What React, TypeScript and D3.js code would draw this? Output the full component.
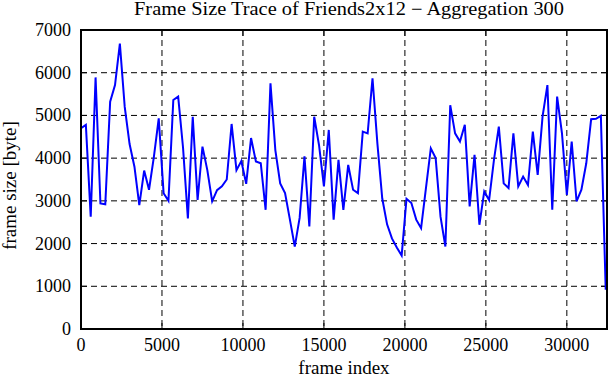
import { useRef, useEffect } from 'react';
import * as d3 from 'd3';

// one point per 300 aggregated frames
const AGGREGATION = 300;
const frameSizes = [
  4700, 4780, 2630, 5890, 2940, 2920, 5320, 5710, 6680, 5200,
  4330, 3800, 2900, 3710, 3260, 4030, 4930, 3180, 3000, 5360,
  5440, 4250, 2590, 4970, 3020, 4270, 3720, 2990, 3250, 3340,
  3500, 4800, 3720, 3930, 3400, 4470, 3920, 3880, 2790, 5750,
  4190, 3410, 3180, 2560, 1930, 2600, 4040, 2400, 4970, 4300,
  3340, 4660, 2560, 3960, 2790, 3840, 3260, 3180, 4620, 4580,
  5870, 4350, 3060, 2450, 2120, 1910, 1720, 3050, 2950, 2560,
  2360, 3300, 4230, 4000, 2630, 1930, 5240, 4580, 4390, 4780,
  2870, 4080, 2440, 3220, 3020, 3960, 4740, 3410, 3300, 4580,
  3340, 3570, 3370, 4620, 3610, 4970, 5710, 2790, 5440, 4580,
  3140, 4390, 2990, 3260, 3880, 4910, 4920, 4990, 920,
];
const xMax = 32480;
const xTicks = [0, 5000, 10000, 15000, 20000, 25000, 30000];
const yTicks = [0, 1000, 2000, 3000, 4000, 5000, 6000, 7000];

const title = 'Frame Size Trace of Friends2x12 \u2212 Aggregation 300';

const App = () => {
  const svgRef = useRef<SVGSVGElement>(null);

  useEffect(() => {
    const svg = d3.select(svgRef.current);
    svg.selectAll('*').remove();

    const width = 611;
    const height = 380;
    const margin = { top: 30, right: 4, bottom: 51, left: 81 };
    const innerWidth = width - margin.left - margin.right;
    const innerHeight = height - margin.top - margin.bottom;
    const font = '"Liberation Serif", "Times New Roman", serif';

    const data = frameSizes.map((v, i) => ({ frame: i * AGGREGATION, size: v }));

    const x = d3.scaleLinear()
      .domain([0, xMax])
      .range([0, innerWidth]);

    const y = d3.scaleLinear()
      .domain([0, 7000])
      .range([innerHeight, 0]);

    const g = svg.append('g')
      .attr('transform', `translate(${margin.left},${margin.top})`);

    // dashed grid
    g.selectAll('.hgrid')
      .data(yTicks.slice(1, -1))
      .enter()
      .append('line')
      .attr('x1', 0)
      .attr('x2', innerWidth)
      .attr('y1', d => y(d))
      .attr('y2', d => y(d))
      .attr('stroke', '#000')
      .attr('stroke-width', 1)
      .attr('stroke-dasharray', '6,4');

    g.selectAll('.vgrid')
      .data(xTicks.slice(1))
      .enter()
      .append('line')
      .attr('x1', d => x(d))
      .attr('x2', d => x(d))
      .attr('y1', 0)
      .attr('y2', innerHeight)
      .attr('stroke', '#000')
      .attr('stroke-width', 1)
      .attr('stroke-dasharray', '6,4');

    // inward ticks on all four sides
    const tickLen = 6;
    xTicks.forEach(t => {
      g.append('line').attr('x1', x(t)).attr('x2', x(t)).attr('y1', innerHeight).attr('y2', innerHeight - tickLen).attr('stroke', '#000');
      g.append('line').attr('x1', x(t)).attr('x2', x(t)).attr('y1', 0).attr('y2', tickLen).attr('stroke', '#000');
    });
    yTicks.forEach(t => {
      g.append('line').attr('x1', 0).attr('x2', tickLen).attr('y1', y(t)).attr('y2', y(t)).attr('stroke', '#000');
      g.append('line').attr('x1', innerWidth).attr('x2', innerWidth - tickLen).attr('y1', y(t)).attr('y2', y(t)).attr('stroke', '#000');
    });

    // trace
    const line = d3.line<{ frame: number; size: number }>()
      .x(d => x(d.frame))
      .y(d => y(d.size));

    g.append('path')
      .datum(data)
      .attr('fill', 'none')
      .attr('stroke', '#0000ff')
      .attr('stroke-width', 2)
      .attr('stroke-linejoin', 'miter')
      .attr('d', line);

    // frame
    g.append('rect')
      .attr('width', innerWidth)
      .attr('height', innerHeight)
      .attr('fill', 'none')
      .attr('stroke', '#000')
      .attr('stroke-width', 2);

    // tick labels
    g.selectAll('.xlab')
      .data(xTicks)
      .enter()
      .append('text')
      .attr('x', d => x(d))
      .attr('y', innerHeight + 22)
      .attr('text-anchor', 'middle')
      .style('font-family', font)
      .style('font-size', '18px')
      .text(d => d);

    g.selectAll('.ylab')
      .data(yTicks)
      .enter()
      .append('text')
      .attr('x', -10)
      .attr('y', d => y(d) + 6)
      .attr('text-anchor', 'end')
      .style('font-family', font)
      .style('font-size', '18px')
      .text(d => d);

    // axis titles
    svg.append('text')
      .attr('x', margin.left + innerWidth / 2)
      .attr('y', 374)
      .attr('text-anchor', 'middle')
      .style('font-family', font)
      .style('font-size', '19px')
      .text('frame index');

    svg.append('text')
      .attr('transform', `translate(16,${margin.top + innerHeight / 2 + 6}) rotate(-90)`)
      .attr('text-anchor', 'middle')
      .style('font-family', font)
      .style('font-size', '19px')
      .text('frame size [byte]');

    svg.append('text')
      .attr('x', 349)
      .attr('y', 15)
      .attr('text-anchor', 'middle')
      .attr('textLength', 430)
      .attr('lengthAdjust', 'spacingAndGlyphs')
      .style('font-family', font)
      .style('font-size', '18px')
      .text(title);
  }, []);

  return (
    <svg
      ref={svgRef}
      width="611"
      height="380"
      style={{ position: 'absolute', left: 0, top: 0, background: '#fff' }}
    ></svg>
  );
};

export default App;
